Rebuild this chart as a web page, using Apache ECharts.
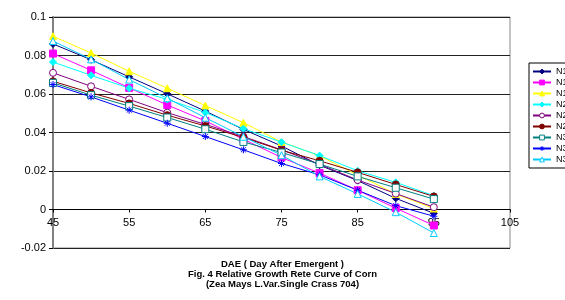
<!DOCTYPE html>
<html>
<head>
<meta charset="utf-8">
<script src="https://cdn.jsdelivr.net/npm/echarts@6/dist/echarts.min.js"></script>
<style>
  html, body { margin: 0; padding: 0; background: #fff; }
  #chart { width: 565px; height: 300px; }
</style>
</head>
<body>
<div id="chart"></div>
<script>
// days after emergence
var days = [45, 50, 55, 60, 65, 70, 75, 80, 85, 90, 95];
var xTicks = [45, 55, 65, 75, 85, 95, 105];
var yTicks = [-0.02, 0, 0.02, 0.04, 0.06, 0.08, 0.1];

// series keys are unique, legend shows the first two chars only
var names = ['N1a', 'N1b', 'N1c', 'N2a', 'N2b', 'N2c', 'N3a', 'N3b', 'N3c'];

var n1a = [0.086, 0.0778, 0.0689, 0.0601, 0.0511, 0.0416, 0.033, 0.023, 0.015, 0.0058, -0.002];
var n1b = [0.081, 0.0723, 0.0632, 0.0543, 0.046, 0.0365, 0.027, 0.0189, 0.010, 0.0007, -0.0083];
var n1c = [0.090, 0.0813, 0.0718, 0.063, 0.054, 0.0451, 0.0351, 0.0279, 0.0179, 0.0081, 0.0005];
var n2a = [0.0766, 0.0697, 0.063, 0.0572, 0.0504, 0.042, 0.035, 0.028, 0.0201, 0.0141, 0.0072];
var n2b = [0.071, 0.064, 0.0572, 0.0503, 0.0442, 0.0379, 0.031, 0.0235, 0.0153, 0.0083, 0.0012];
var n2c = [0.0666, 0.0606, 0.0551, 0.049, 0.0434, 0.0374, 0.0308, 0.0253, 0.0193, 0.013, 0.0068];
var n3a = [0.0658, 0.0594, 0.0537, 0.0478, 0.0417, 0.0351, 0.0296, 0.0236, 0.0172, 0.0113, 0.0054];
var n3b = [0.0649, 0.0585, 0.0516, 0.0448, 0.0379, 0.031, 0.0239, 0.018, 0.010, 0.002, -0.0035];
var n3c = [0.0875, 0.078, 0.0675, 0.0578, 0.0477, 0.0378, 0.0282, 0.0172, 0.0081, -0.0014, -0.0122];

var star = 'path://M0,5L10,5M5,0L5,10M1.5,1.5L8.5,8.5M8.5,1.5L1.5,8.5';

var styles = [
  ['#000080', 'diamond', true],
  ['#ff00ff', 'rect', true],
  ['#ffff00', 'triangle', true],
  ['#00ffff', 'diamond', true],
  ['#800080', 'circle', false],
  ['#800000', 'circle', true],
  ['#008080', 'rect', false],
  ['#0000ff', star, false],
  ['#00ccff', 'triangle', false]
];

function mk(i, vals) {
  var s = styles[i];
  return {
    name: names[i],
    type: 'line',
    xAxisIndex: 0,
    yAxisIndex: 0,
    data: days.map(function (d, k) { return [d, vals[k]]; }),
    symbol: s[1],
    symbolSize: 7,
    showAllSymbol: true,
    lineStyle: { color: s[0], width: 1 },
    itemStyle: {
      color: s[2] ? s[0] : '#fff',
      borderColor: s[0],
      borderWidth: 1
    }
  };
}

var chart = echarts.init(document.getElementById('chart'), null, { renderer: 'canvas' });

// plot spans y 17..248; zero line sits 0.1/0.12 of the way down
var plotTop = 17, plotBottom = 52;
var zeroBottom = 300 - (plotTop + (300 - plotTop - plotBottom) * (0.1 / 0.12));

var option = {
  backgroundColor: '#fff',
  animation: false,
  textStyle: { fontFamily: 'Liberation Sans, Arial, sans-serif' },
  grid: [{
    left: 53,
    right: 55,
    top: plotTop,
    bottom: plotBottom,
    show: true,
    borderColor: '#888',
    borderWidth: 1
  }, {
    // helper grid whose bottom edge is the zero line, carries the x labels
    left: 53,
    right: 55,
    top: plotTop,
    bottom: zeroBottom
  }],
  legend: {
    orient: 'vertical',
    left: 529,
    top: 63,
    padding: [3, 20, 3, 3],
    itemWidth: 18,
    itemHeight: 6,
    itemGap: 0,
    borderColor: '#000',
    borderWidth: 1,
    textStyle: { fontSize: 9, color: '#000', lineHeight: 11 },
    formatter: function (name) { return name.slice(0, 2); },
    data: names.map(function (n, i) {
      return {
        name: n,
        itemStyle: {
          color: styles[i][2] ? styles[i][0] : '#fff',
          borderColor: styles[i][0],
          borderWidth: 1
        }
      };
    })
  },
  xAxis: [{
    type: 'value',
    gridIndex: 0,
    min: xTicks[0],
    max: xTicks[xTicks.length - 1],
    interval: 10,
    axisLine: { show: false, onZero: false },
    axisTick: { show: false },
    axisLabel: { show: false },
    splitLine: { show: false }
  }, {
    type: 'value',
    gridIndex: 1,
    min: xTicks[0],
    max: xTicks[xTicks.length - 1],
    interval: 10,
    axisLine: { onZero: false, lineStyle: { color: '#000', width: 1 } },
    axisTick: { inside: false, length: 3, lineStyle: { color: '#000' } },
    axisLabel: { color: '#000', fontSize: 11, margin: 8 },
    splitLine: { show: false }
  }],
  yAxis: [{
    type: 'value',
    gridIndex: 0,
    min: yTicks[0],
    max: yTicks[yTicks.length - 1],
    interval: 0.02,
    axisLine: { show: true, onZero: false, lineStyle: { color: '#808080', width: 2 } },
    axisTick: { show: true, length: 4, lineStyle: { color: '#000' } },
    axisLabel: { color: '#000', fontSize: 11, margin: 7 },
    splitLine: { show: true, lineStyle: { color: '#222', width: 1 } }
  }, {
    type: 'value',
    gridIndex: 1,
    min: 0,
    max: 0.1,
    show: false
  }],
  graphic: [{
    type: 'text',
    left: 'center',
    top: 259,
    style: {
      text: 'DAE ( Day After Emergent )\nFig. 4 Relative Growth Rete Curve of Corn\n(Zea Mays L.Var.Single Crass 704)',
      font: 'bold 9.5px "Liberation Sans", Arial, sans-serif',
      fill: '#000',
      textAlign: 'center',
      lineHeight: 10
    }
  }],
  series: [
    mk(0, n1a), mk(1, n1b), mk(2, n1c),
    mk(3, n2a), mk(4, n2b), mk(5, n2c),
    mk(6, n3a), mk(7, n3b), mk(8, n3c)
  ]
};

chart.setOption(option);
</script>
</body>
</html>
